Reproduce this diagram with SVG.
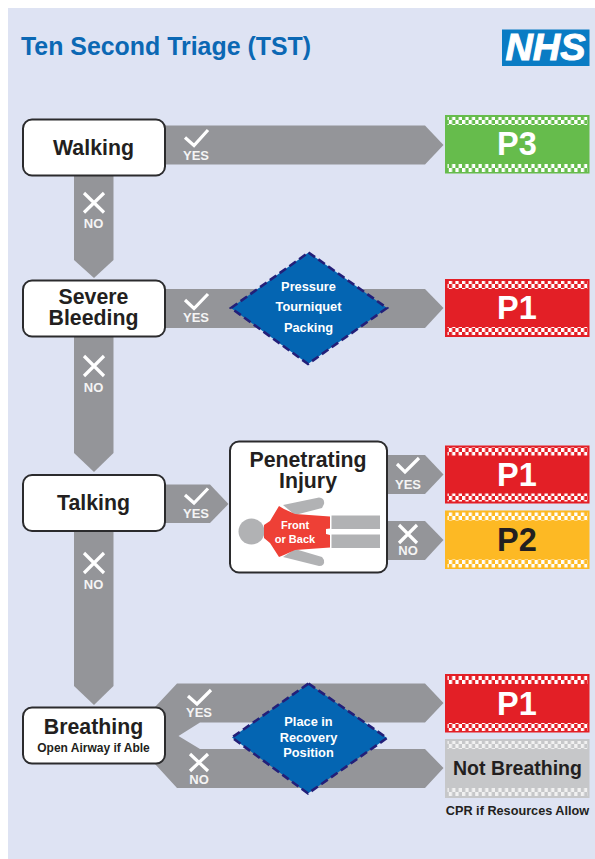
<svg xmlns="http://www.w3.org/2000/svg" width="595" height="859" viewBox="0 0 595 859">
<style>
text{font-family:"Liberation Sans",Arial,sans-serif;font-weight:700;text-anchor:middle}
.arrow{fill:#949599}
.box{fill:#fff;stroke:#2b2b2d;stroke-width:2}
.lbl{font-size:21.300px;fill:#231f20}
.yn{font-size:13px;fill:#f4f4f4}
.mark{fill:none;stroke:#fff;stroke-width:3.2}
.dia{fill:#0465b2;stroke:#231f78;stroke-width:2.6;stroke-dasharray:8 4}
.dt{font-size:12.800px;fill:#fff}
.pri{font-size:32.500px}
.band{fill:url(#chk)}
</style>
<defs>
<pattern id="chk" width="6.6" height="8" patternUnits="userSpaceOnUse">
<rect width="3.3" height="4" fill="#fff"/><rect x="3.3" y="4" width="3.3" height="4" fill="#fff"/>
</pattern>
<pattern id="chkg" width="6.6" height="8" patternUnits="userSpaceOnUse">
<rect width="3.3" height="4" fill="#f1f1f1"/><rect x="3.3" y="4" width="3.3" height="4" fill="#f1f1f1"/>
</pattern>
</defs>
<rect width="595" height="859" fill="#fff"/>
<rect x="8" y="8" width="587" height="851" fill="#dee3f3"/>
<text x="166" y="55" style="font-size:24.900px;fill:#0b68b4">Ten Second Triage (TST)</text>
<g id="nhs-logo">
<rect x="502" y="29.500" width="87.500" height="36.500" fill="#0a7cc4"/>
<text x="545.500" y="60" textLength="80" lengthAdjust="spacingAndGlyphs" style="font-size:37px;font-style:italic;fill:#fff;stroke:#fff;stroke-width:1">NHS</text>
</g>
<g id="connectors">
<path class="arrow" d="M165 125.500H425L443.500 145 425 164.500H165Z"/>
<path class="arrow" d="M74 176H113.500V260L94 278 74 260Z"/>
<path class="arrow" d="M165 289H425L443.500 308 425 328H165Z"/>
<path class="arrow" d="M74 337H113.500V453L94 472 74 453Z"/>
<path class="arrow" d="M165 484.500H210L228.500 504 210 523H165Z"/>
<path class="arrow" d="M388 455H425L443.500 474.500 425 494H388Z"/>
<path class="arrow" d="M388 521H425L443.500 540 425 560H388Z"/>
<path class="arrow" d="M74 531H113.500V686L94 705 74 686Z"/>
<path class="arrow" d="M155 707L177 683.500H425L443.500 703 425 722.500H200L178.500 736 200 749H425L443.500 768 425 788H177L155 764Z"/>
</g>
<g id="yes-no-marks">
<path class="mark" d="M185 137.500L194 145.500 208 130"/>
<text class="yn" x="196" y="160">YES</text>
<path class="mark" d="M84 193L104 212.500M104 193L84 212.500"/>
<text class="yn" x="93.500" y="228">NO</text>
<path class="mark" d="M185 300L194 308.500 208 294"/>
<text class="yn" x="196" y="322">YES</text>
<path class="mark" d="M84 356L104 376M104 356L84 376"/>
<text class="yn" x="93.500" y="392">NO</text>
<path class="mark" d="M185 495L194 503 208 488.500"/>
<text class="yn" x="196" y="518">YES</text>
<path class="mark" d="M84 553L104 573M104 553L84 573"/>
<text class="yn" x="93.500" y="589">NO</text>
<path class="mark" d="M397 464L405 472 419 458"/>
<text class="yn" x="408" y="489">YES</text>
<path class="mark" d="M399 525L417 543M417 525L399 543"/>
<text class="yn" x="408" y="555">NO</text>
<path class="mark" d="M188 696L197 704 211 690"/>
<text class="yn" x="199" y="717">YES</text>
<path class="mark" d="M190 754L208 771M208 754L190 771"/>
<text class="yn" x="199" y="784">NO</text>
</g>
<g id="walking"><rect class="box" x="23" y="119.500" width="142" height="56" rx="9"/><text class="lbl" x="93.500" y="155">Walking</text></g>
<g id="severe-bleeding"><rect class="box" x="23" y="280.500" width="142" height="56" rx="9"/><text class="lbl" x="93.500" y="304">Severe</text><text class="lbl" x="93.500" y="325">Bleeding</text></g>
<g id="talking"><rect class="box" x="23" y="475" width="142" height="56" rx="9"/><text class="lbl" x="93.500" y="510">Talking</text></g>
<g id="breathing"><rect class="box" x="23" y="707.500" width="142" height="56" rx="9"/><text class="lbl" x="93.500" y="733.500">Breathing</text><text x="93.500" y="752" style="font-size:12px;fill:#231f20">Open Airway if Able</text></g>
<g id="pressure"><path class="dia" d="M308.500 252.500L387 308 308 364 231 308Z"/><text class="dt" x="308.500" y="291">Pressure</text><text class="dt" x="308.500" y="311">Tourniquet</text><text class="dt" x="308.500" y="332">Packing</text></g>
<g id="recovery"><path class="dia" d="M308.500 683.500L387 738 308 793.500 232 737.500Z"/><text class="dt" x="308.500" y="726">Place in</text><text class="dt" x="308.500" y="742">Recovery</text><text class="dt" x="308.500" y="757">Position</text></g>
<g id="penetrating">
<rect class="box" x="230" y="441.500" width="157" height="131" rx="9"/>
<text class="lbl" x="308" y="467">Penetrating</text><text class="lbl" x="308" y="488">Injury</text>
<path d="M283 505L319 497.500Q325 498 324 504L322 508 295 515Z" fill="#b1b2b4"/>
<path d="M283 557L319 566Q325 566 324 560L322 557 295 549Z" fill="#b1b2b4"/>
<circle cx="251.500" cy="531.500" r="13" fill="#b1b2b4"/>
<rect x="331.500" y="515.500" width="48.500" height="13.500" fill="#b1b2b4"/>
<rect x="331.500" y="534.500" width="48.500" height="13.500" fill="#b1b2b4"/>
<path d="M264 525L270 521 279 506 284 509 295 514 330 516.500V528.500L326 529V534L330 535V547.500L295 550 284 555 279 557 270 543 264 538Z" fill="#ee4036"/>
<text x="295" y="529" style="font-size:11px;fill:#fff">Front</text>
<text x="295" y="542.500" style="font-size:11px;fill:#fff">or Back</text>
</g>
<g id="p3"><rect x="445" y="115" width="144.500" height="58.500" fill="#66bc4c"/><rect class="band" x="447.500" y="117" width="140" height="8"/><rect class="band" x="447.500" y="164" width="140" height="8"/><text class="pri" x="517" y="155" fill="#fff">P3</text></g>
<g id="p1-bleeding"><rect x="445" y="279" width="144.500" height="58" fill="#e31f26"/><rect class="band" x="447.500" y="281" width="140" height="8"/><rect class="band" x="447.500" y="327" width="140" height="8"/><text class="pri" x="517" y="319" fill="#fff">P1</text></g>
<g id="p1-penetrating"><rect x="445" y="445.500" width="144.500" height="58" fill="#e31f26"/><rect class="band" x="447.500" y="447.500" width="140" height="8"/><rect class="band" x="447.500" y="493.500" width="140" height="8"/><text class="pri" x="517" y="486" fill="#fff">P1</text></g>
<g id="p2"><rect x="445" y="510.500" width="144.500" height="58.500" fill="#fdb924"/><rect class="band" x="447.500" y="512.500" width="140" height="8"/><rect class="band" x="447.500" y="559.500" width="140" height="8"/><text class="pri" x="517" y="551" fill="#231f20">P2</text></g>
<g id="p1-breathing"><rect x="445" y="674" width="144.500" height="58.500" fill="#e31f26"/><rect class="band" x="447.500" y="676" width="140" height="8"/><rect class="band" x="447.500" y="723" width="140" height="8"/><text class="pri" x="517" y="715" fill="#fff">P1</text></g>
<g id="not-breathing"><rect x="445" y="739" width="144.500" height="59" fill="#c6c7c9"/><rect x="447.500" y="741" width="140" height="8" fill="url(#chkg)"/><rect x="447.500" y="788" width="140" height="8" fill="url(#chkg)"/><text x="517.500" y="775" style="font-size:19.500px;fill:#231f20">Not Breathing</text></g>
<text x="517.500" y="815" style="font-size:12.700px;fill:#231f20">CPR if Resources Allow</text>
</svg>
